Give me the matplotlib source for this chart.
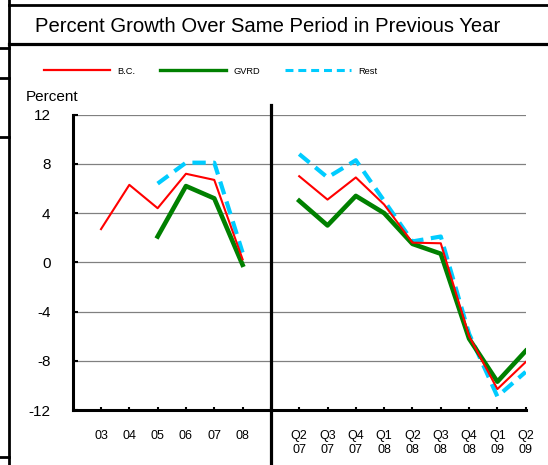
import matplotlib
matplotlib.use("Agg")
import matplotlib.pyplot as plt
from matplotlib.lines import Line2D
import numpy as np

plt.rcParams['font.family'] = ['Liberation Sans', 'DejaVu Sans']

# Annual categories (left panel) and quarterly categories (right panel)
annual_labels = ["03", "04", "05", "06", "07", "08"]
quarter_labels = ["Q2\n07", "Q3\n07", "Q4\n07", "Q1\n08", "Q2\n08",
                  "Q3\n08", "Q4\n08", "Q1\n09", "Q2\n09"]

# Annual series (percent growth)
bc_annual = [2.7, 6.3, 4.4, 7.2, 6.7, 0.25]
gvrd_annual = [None, None, 2.1, 6.2, 5.2, -0.2]
rest_annual = [None, None, 6.4, 8.1, 8.1, 0.8]

# Quarterly series (percent growth)
bc_quarter = [7.0, 5.1, 6.9, 4.7, 1.6, 1.55, -6.0, -10.3, -8.1]
gvrd_quarter = [5.0, 3.0, 5.4, 4.0, 1.5, 0.7, -6.2, -9.7, -7.2]
rest_quarter = [8.8, 6.9, 8.3, 5.0, 1.7, 2.1, -5.8, -10.9, -8.9]

series_names = ["B.C.", "GVRD", "Rest"]
yticks = [12, 8, 4, 0, -4, -8, -12]

W, H = 548, 465
fig = plt.figure(figsize=(W / 100, H / 100), dpi=100)
ax = fig.add_axes([72.7 / W, 1 - 410 / H, (525.7 - 72.7) / W, (410 - 114.7) / H])

n_a = len(annual_labels)
x_a = np.arange(1, n_a + 1)
div = n_a + 1
x_q = np.arange(div + 1, div + 1 + len(quarter_labels))


def arr(v):
    return np.array([np.nan if e is None else e for e in v], dtype=float)


red, green, cyan = "#FF0000", "#008000", "#00CCFF"
styles = [dict(color=red, lw=1.5, zorder=4),
          dict(color=green, lw=3.3, zorder=3),
          dict(color=cyan, lw=3.0, dashes=(3.2, 1.8), zorder=2)]
for vals_a, vals_q, st in zip([bc_annual, gvrd_annual, rest_annual],
                              [bc_quarter, gvrd_quarter, rest_quarter], styles):
    ax.plot(x_a, arr(vals_a), **st)
    ax.plot(x_q, arr(vals_q), **st)

ax.set_xlim(0, div + len(quarter_labels))
ax.set_ylim(-12, 12)
for y in yticks[:-1]:
    ax.axhline(y, color="#808080", lw=0.9, zorder=1)

ax.spines['top'].set_visible(False)
ax.spines['right'].set_visible(False)
ax.spines['left'].set_linewidth(2.2)
ax.spines['bottom'].set_linewidth(2.2)

ax.set_yticks(yticks)
ax.set_yticklabels([str(v) for v in yticks], fontsize=11)
ax.tick_params(axis='y', direction='in', length=3.5, width=1.5, pad=16)
xt = list(x_a) + [div] + list(x_q)
xl = annual_labels + [""] + quarter_labels
ax.set_xticks(xt)
ax.set_xticklabels(xl, fontsize=9, linespacing=1.2, va='top')
ax.tick_params(axis='x', direction='in', length=2.5, width=1.5, pad=14.5)

# divider between annual and quarterly
trans = matplotlib.transforms.blended_transform_factory(ax.transData, fig.transFigure)
fig.add_artist(Line2D([div, div], [0, 1 - 105 / H], transform=trans, color='black',
                      lw=2.3, zorder=5))

# title box and frame
fig.text(268 / W, 1 - 26 / H, "Percent Growth Over Same Period in Previous Year",
         ha='center', va='center', fontsize=14.6)
fig.add_artist(Line2D([8.5 / W, 8.5 / W], [0, 1], color='black', lw=2.0))
fig.add_artist(Line2D([8.5 / W, 1], [1 - 4.7 / H, 1 - 4.7 / H], color='black', lw=2.0))
fig.add_artist(Line2D([8.5 / W, 1], [1 - 44 / H, 1 - 44 / H], color='black', lw=2.3))
for yy in [48, 78, 137, 457]:
    fig.add_artist(Line2D([0, 8.5 / W], [1 - yy / H, 1 - yy / H], color='black', lw=2.0))

fig.text(26 / W, 1 - 97 / H, "Percent", ha='left', va='center', fontsize=11)

handles = [Line2D([], [], color=red, lw=1.6),
           Line2D([], [], color=green, lw=2.4),
           Line2D([], [], color=cyan, lw=2.2, dashes=(2.6, 1.6))]
ax.legend(handles, series_names, loc='center left',
          bbox_to_anchor=(44 / W, 1 - 71 / H),
          bbox_transform=fig.transFigure, ncol=3, frameon=False,
          fontsize=6.7, handlelength=7.1, handletextpad=0.75,
          columnspacing=2.7, borderpad=0, borderaxespad=0)

fig.savefig("out.png", dpi=100)
